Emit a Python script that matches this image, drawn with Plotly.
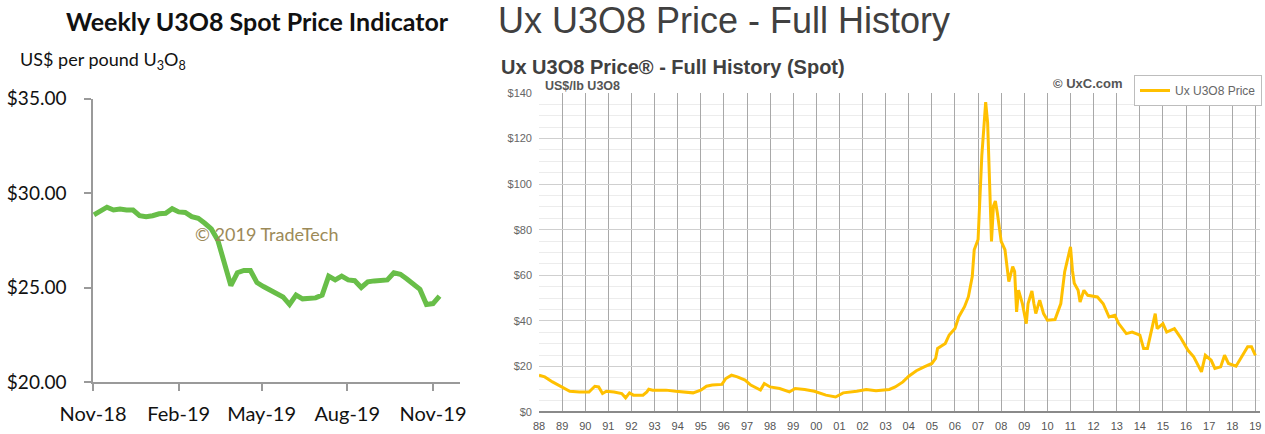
import pandas as pd
import plotly.graph_objects as go

W, H = 1265, 434

# ---------------- Left chart data (TradeTech weekly indicator) ----------------
tt_start = "2018-11-02"
tt_values = [28.85, 29.05, 29.25, 29.10, 29.15, 29.10, 29.10, 28.80, 28.75, 28.80,
             28.90, 28.93, 29.17, 29.00, 28.97, 28.75, 28.66, 28.40, 28.10, 27.50,
             26.40, 25.10, 25.78, 25.90, 25.90, 25.26, 25.05, 24.88, 24.67, 24.50,
             24.10, 24.60, 24.40, 24.42, 24.45, 24.60, 25.60, 25.40, 25.60, 25.40,
             25.36, 25.00, 25.30, 25.35, 25.35, 25.40, 25.78, 25.70, 25.45, 25.15,
             24.90, 24.10, 24.15, 24.55]
tt_dates = pd.date_range(tt_start, periods=len(tt_values), freq="7D")
tt_yticks = [20, 25, 30, 35]
tt_yticktext = ["$20.00", "$25.00", "$30.00", "$35.00"]
tt_xticks = ["2018-11-01", "2019-02-01", "2019-05-01", "2019-08-01", "2019-11-01"]
tt_xticktext = ["Nov-18", "Feb-19", "May-19", "Aug-19", "Nov-19"]

# ---------------- Right chart data (Ux U3O8 full history) ----------------
ux_dates = [
    "1988-01", "1988-04", "1988-08", "1989-01", "1989-05", "1989-10", "1990-03", "1990-06",
    "1990-08", "1990-10", "1990-12", "1991-04", "1991-08", "1991-10", "1991-12", "1992-02",
    "1992-07", "1992-09", "1992-10", "1992-12", "1993-07", "1993-12", "1994-07", "1994-09",
    "1995-01", "1995-04", "1995-07", "1995-12", "1996-02", "1996-05", "1996-08", "1996-12",
    "1997-03", "1997-07", "1997-08", "1997-10", "1998-01", "1998-06", "1998-11", "1999-02",
    "1999-07", "1999-12", "2000-06", "2000-11", "2001-03", "2001-10", "2002-03", "2002-08",
    "2003-03", "2003-06", "2003-10", "2004-01", "2004-05", "2004-09", "2005-01", "2005-03",
    "2005-04", "2005-08", "2005-10", "2006-01", "2006-03", "2006-06", "2006-08", "2006-10",
    "2006-11", "2007-01", "2007-02", "2007-03", "2007-04", "2007-05", "2007-06", "2007-07",
    "2007-08", "2007-09", "2007-10", "2007-11", "2008-01", "2008-03", "2008-05", "2008-07",
    "2008-08", "2008-09", "2008-10", "2008-12", "2009-02", "2009-03", "2009-05", "2009-06",
    "2009-07", "2009-09", "2009-11", "2010-01", "2010-05", "2010-08", "2010-10", "2011-01",
    "2011-02", "2011-03", "2011-05", "2011-06", "2011-08", "2011-10", "2012-03", "2012-06",
    "2012-09", "2012-12", "2013-02", "2013-06", "2013-09", "2014-01", "2014-03", "2014-05",
    "2014-07", "2014-09", "2014-10", "2015-01", "2015-03", "2015-07", "2015-10", "2016-02",
    "2016-05", "2016-09", "2016-11", "2017-02", "2017-04", "2017-07", "2017-09", "2017-11",
    "2018-03", "2018-06", "2018-09", "2018-11", "2019-01",
]
ux_values = [
    16.2, 15.4, 13.2, 11.0, 9.1, 8.8, 8.8, 11.3,
    11.0, 8.1, 9.1, 8.8, 8.1, 6.2, 8.4, 7.4,
    7.4, 8.8, 10.0, 9.6, 9.6, 9.1, 8.8, 8.4,
    9.6, 11.3, 11.8, 12.1, 14.7, 16.2, 15.4, 14.0,
    11.8, 9.9, 9.6, 12.5, 11.0, 10.3, 8.8, 10.3,
    9.9, 9.1, 7.4, 6.6, 8.4, 9.1, 9.9, 9.3,
    9.9, 11.0, 13.2, 15.7, 18.1, 19.8, 21.3, 23.5,
    27.9, 30.1, 33.8, 36.6, 41.7, 46.2, 50.6, 59.4,
    71.2, 75.7, 97.8, 112.5, 124.3, 136.0, 127.0, 103.7,
    74.9, 90.4, 92.6, 87.5, 74.9, 71.2, 57.2, 63.8,
    61.6, 43.9, 53.5, 47.6, 38.8, 47.6, 53.1, 47.6,
    43.2, 49.1, 43.2, 40.3, 40.6, 47.6, 61.6, 72.5,
    62.0, 56.5, 53.4, 48.3, 53.4, 51.2, 50.5, 47.5,
    41.7, 42.4, 38.8, 34.4, 35.1, 33.7, 27.9, 27.9,
    35.1, 43.2, 36.6, 38.8, 35.1, 36.6, 32.9, 27.1,
    24.2, 17.6, 24.9, 22.7, 19.1, 19.8, 24.9, 21.3,
    20.1, 24.2, 28.6, 28.6, 24.9,
]
ux_yticks = [0, 20, 40, 60, 80, 100, 120, 140]
ux_yticktext = ["$0", "$20", "$40", "$60", "$80", "$100", "$120", "$140"]


def px(x):
    return x / W


def py(y):
    return 1 - y / H


LEFTFONT = "Lato, Open Sans, sans-serif"
ARIAL = "Liberation Sans, Arial, Helvetica, sans-serif"

fig = go.Figure()

fig.add_trace(go.Scatter(
    x=tt_dates, y=tt_values, mode="lines",
    line=dict(color="#68BE48", width=5),
    xaxis="x", yaxis="y", showlegend=False, name="TradeTech",
))

fig.add_trace(go.Scatter(
    x=pd.to_datetime(ux_dates), y=ux_values, mode="lines",
    line=dict(color="#FFC000", width=3),
    xaxis="x2", yaxis="y2", showlegend=True, name="Ux U3O8 Price",
))

fig.update_layout(
    width=W, height=H,
    margin=dict(l=0, r=0, t=0, b=0, autoexpand=False),
    paper_bgcolor="white", plot_bgcolor="white",
    xaxis=dict(
        domain=[px(93), px(460)],
        anchor="y",
        type="date",
        range=["2018-11-01", "2019-11-30"],
        tickvals=tt_xticks, ticktext=tt_xticktext,
        showgrid=False, zeroline=False,
        showline=True, linecolor="#9a9a9a", linewidth=1.5,
        ticks="outside", ticklen=7, tickcolor="#9a9a9a", tickwidth=1.5,
        tickfont=dict(family=LEFTFONT, size=20, color="#111111"),
        ticklabelstandoff=6,
    ),
    yaxis=dict(
        domain=[py(382), py(98.5)],
        anchor="x",
        range=[20, 35],
        tickvals=tt_yticks, ticktext=tt_yticktext,
        showgrid=False, zeroline=False,
        showline=True, linecolor="#9a9a9a", linewidth=1.5,
        ticks="outside", ticklen=7, tickcolor="#9a9a9a", tickwidth=1.5,
        tickfont=dict(family=LEFTFONT, size=19, color="#111111"),
        ticklabelstandoff=14,
    ),
    xaxis2=dict(
        domain=[px(539), px(1260)],
        anchor="y2",
        type="date",
        range=["1988-01-01", "2019-03-15"],
        tick0="1988-01-01", dtick="M12", tickformat="%y",
        showgrid=True, gridcolor="#a8a8a8", gridwidth=1,
        zeroline=False, showline=False,
        ticks="", tickfont=dict(family=ARIAL, size=11, color="#555555"),
        ticklabelstandoff=6,
    ),
    yaxis2=dict(
        domain=[py(412), py(93)],
        anchor="x2",
        range=[0, 140],
        tickvals=ux_yticks, ticktext=ux_yticktext,
        showgrid=True, gridcolor="#cfcfcf", gridwidth=1,
        minor=dict(dtick=5, tick0=0, showgrid=True, gridcolor="#ececec", gridwidth=1),
        zeroline=True, zerolinecolor="#8a8a8a", zerolinewidth=1.5,
        showline=False, ticks="",
        tickfont=dict(family=ARIAL, size=11, color="#666666"),
        ticklabelstandoff=6,
    ),
    legend=dict(
        x=px(1262), y=py(75), xanchor="right", yanchor="top",
        bgcolor="white", bordercolor="#bdbdbd", borderwidth=1,
        font=dict(family=ARIAL, size=12, color="#666666"),
        itemwidth=30, tracegroupgap=0,
    ),
)

annotations = [
    # Left chart texts
    dict(text="<b>Weekly U3O8 Spot Price Indicator</b>", x=px(257), y=py(21),
         font=dict(family=LEFTFONT, size=25, color="#111111")),
    dict(text="US$ per pound U<sub>3</sub>O<sub>8</sub>", x=px(18), y=py(60), xanchor="left",
         font=dict(family=LEFTFONT, size=18, color="#111111")),
    dict(text="© 2019 TradeTech", x=px(266), y=py(234),
         font=dict(family=LEFTFONT, size=18, color="#9c8a58")),
    # Right chart texts
    dict(text="Ux U3O8 Price - Full History", x=px(496), y=py(21), xanchor="left",
         font=dict(family=ARIAL, size=36, color="#404040")),
    dict(text="<b>Ux U3O8 Price® - Full History (Spot)</b>", x=px(499), y=py(67), xanchor="left",
         font=dict(family=ARIAL, size=20, color="#404040")),
    dict(text="<b>US$/lb U3O8</b>", x=px(543), y=py(86), xanchor="left",
         font=dict(family=ARIAL, size=12.5, color="#555555")),
    dict(text="<b>© UxC.com</b>", x=px(1088), y=py(83),
         font=dict(family=ARIAL, size=13, color="#555555")),
]
for a in annotations:
    a.setdefault("xanchor", "center")
    a.update(xref="paper", yref="paper", yanchor="middle", showarrow=False)
fig.update_layout(annotations=annotations)

fig.write_html(
    "out.html",
    config={"displayModeBar": False},
    post_script="document.body.style.margin='0px';document.body.style.overflow='hidden';",
)
